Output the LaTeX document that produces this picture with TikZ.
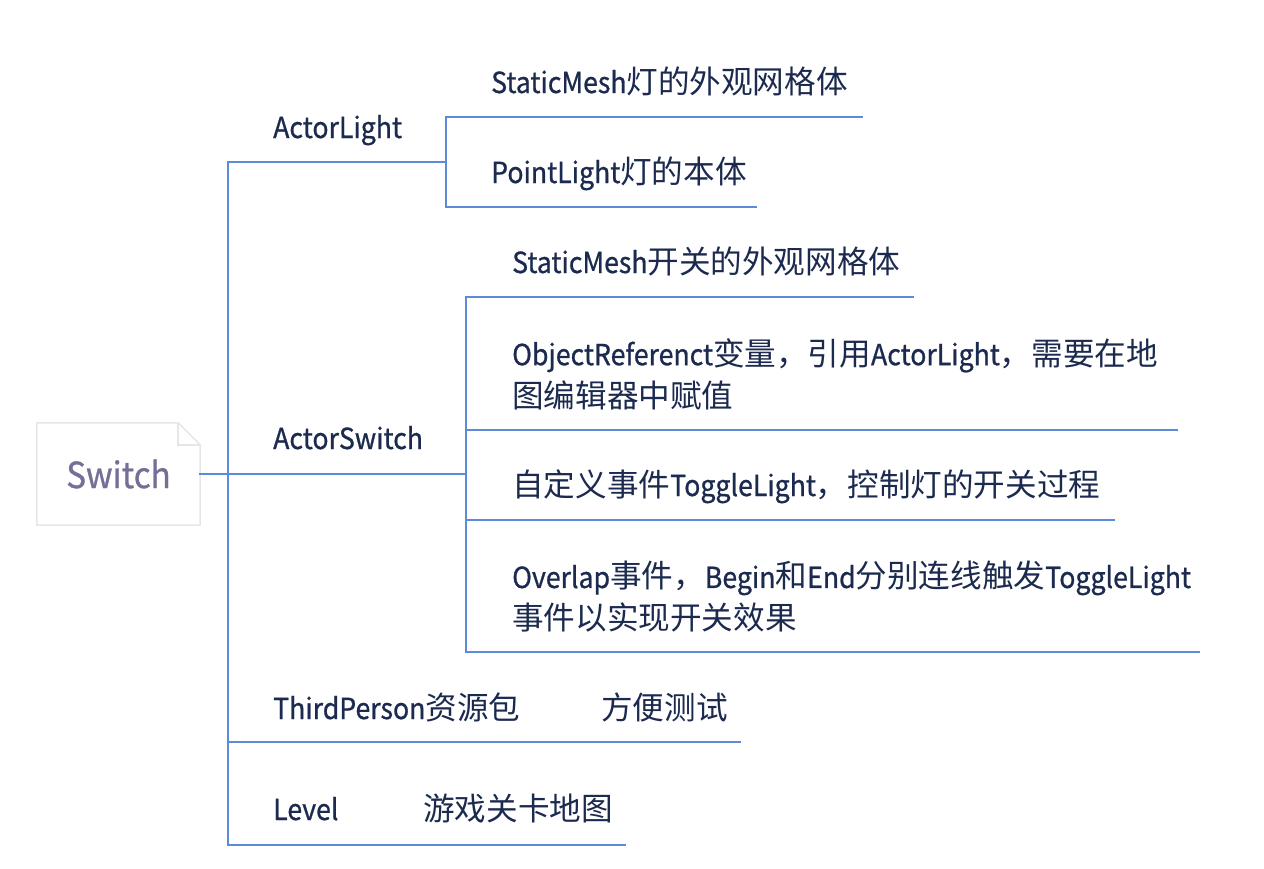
\documentclass[tikz,border=0pt]{standalone}
\usepackage{fontspec}
\setmainfont{Noto Sans CJK SC}
\newfontfamily\latfam{Noto Sans CJK SC}[FakeStretch=0.92, FakeBold=0.8]
\newcommand\latn[1]{{\latfam\fontsize{29}{42}\selectfont #1}}
\definecolor{linec}{HTML}{5B8BD9}
\definecolor{txtc}{HTML}{1B2A4E}
\definecolor{swc}{HTML}{736F96}
\definecolor{boxc}{HTML}{E6E6E6}
\begin{document}
\begin{tikzpicture}[x=1pt,y=-1pt,
  conn/.style={draw=linec, line width=2.2pt, line cap=rect},
  lbl/.style={anchor=base west, inner sep=0pt, text=txtc, font=\fontsize{31.6}{42}\selectfont},
  lbl2/.style={anchor=west, inner sep=0pt, text=txtc, align=left, font=\fontsize{31.6}{42}\selectfont},
  rootbox/.style={minimum width=163pt, minimum height=102pt, inner sep=0pt, text=swc, font=\latfam\fontsize{36}{42}\selectfont}]
\useasboundingbox (0,0) rectangle (1264,868);
% root
\node[rootbox] (root) at (118.5,474) {Switch};
\draw[boxc, line width=1.5pt] (root.north west) -- ([xshift=-22pt]root.north east) -- ([yshift=-22pt]root.north east) -- (root.south east) -- (root.south west) -- cycle;
\draw[boxc, line width=1.5pt] ([xshift=-22pt]root.north east) -- ([xshift=-22pt,yshift=-22pt]root.north east) -- ([yshift=-22pt]root.north east);
% trunk coordinates
\coordinate (t0) at (228,162);
\coordinate (t1) at (228,474);
\coordinate (t2) at (228,742);
\coordinate (t3) at (228,845);
\draw[conn] (root.east) -- (t1);
\draw[conn] (t0) -- (t3);
% ActorLight
\coordinate (al) at (446,162);
\coordinate (al1) at (446,117);
\coordinate (al2) at (446,207);
\coordinate (al1e) at (862,117);
\coordinate (al2e) at (756,207);
\draw[conn] (t0) -- (al);
\draw[conn] (al1) -- (al2);
\draw[conn] (al1) -- (al1e);
\draw[conn] (al2) -- (al2e);
\node[lbl] (nal) at (273,138) {\latn{ActorLight}};
\node[lbl] (nal1) at (491,93) {\latn{StaticMesh}灯的外观网格体};
\node[lbl] (nal2) at (491,183) {\latn{PointLight}灯的本体};
% ActorSwitch
\coordinate (as) at (466,474);
\coordinate (as1) at (466,297);
\coordinate (as2) at (466,430);
\coordinate (as3) at (466,520);
\coordinate (as4) at (466,652);
\coordinate (as1e) at (913,297);
\coordinate (as2e) at (1177,430);
\coordinate (as3e) at (1114,520);
\coordinate (as4e) at (1199,652);
\draw[conn] (t1) -- (as);
\draw[conn] (as1) -- (as4);
\draw[conn] (as1) -- (as1e);
\draw[conn] (as2) -- (as2e);
\draw[conn] (as3) -- (as3e);
\draw[conn] (as4) -- (as4e);
\node[lbl] (nas) at (273,449) {\latn{ActorSwitch}};
\node[lbl] (nas1) at (512,273) {\latn{StaticMesh}开关的外观网格体};
\node[lbl2] (nas2) at (512,374) {\latn{ObjectReferenct}变量，引用\latn{ActorLight}，需要在地\\图编辑器中赋值};
\node[lbl] (nas3) at (512,496) {自定义事件\latn{ToggleLight}，控制灯的开关过程};
\node[lbl2] (nas4) at (512,597) {\latn{Overlap}事件，\latn{Begin}和\latn{End}分别连线触发\latn{ToggleLight}\\事件以实现开关效果};
% ThirdPerson
\coordinate (tp) at (560,742);
\coordinate (tpe) at (740,742);
\draw[conn] (t2) -- (tp);
\draw[conn] (tp) -- (tpe);
\node[lbl] (ntp) at (273,719) {\latn{ThirdPerson}资源包};
\node[lbl] (ntp1) at (601,719) {方便测试};
% Level
\coordinate (lv) at (383,845);
\coordinate (lve) at (625,845);
\draw[conn] (t3) -- (lv);
\draw[conn] (lv) -- (lve);
\node[lbl] (nlv) at (273,820) {\latn{Level}};
\node[lbl] (nlv1) at (423,820) {游戏关卡地图};
\end{tikzpicture}
\end{document}
